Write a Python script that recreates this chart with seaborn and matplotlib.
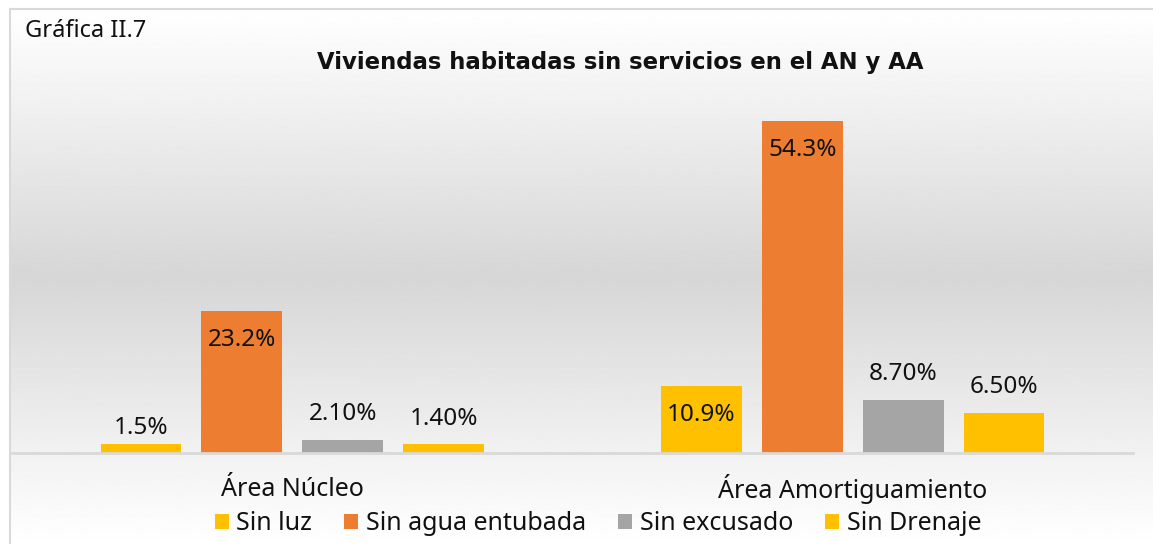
import numpy as np
import pandas as pd
import matplotlib
matplotlib.use("Agg")
import matplotlib.pyplot as plt
import seaborn as sns

# ---- data ----
areas = ["Área Núcleo", "Área Amortiguamiento"]
servicios = ["Sin luz", "Sin agua entubada", "Sin excusado", "Sin Drenaje"]
sin_luz = [1.5, 10.9]
sin_agua = [23.2, 54.3]
sin_excusado = [2.10, 8.70]
sin_drenaje = [1.40, 6.50]
etiquetas = [["1.5%", "10.9%"], ["23.2%", "54.3%"], ["2.10%", "8.70%"], ["1.40%", "6.50%"]]
titulo = "Viviendas habitadas sin servicios en el AN y AA"
rotulo = "Gráfica II.7"

rows = []
for serie, vals in zip(servicios, [sin_luz, sin_agua, sin_excusado, sin_drenaje]):
    for a, v in zip(areas, vals):
        rows.append({"area": a, "servicio": serie, "valor": v})
df = pd.DataFrame(rows)

colors = {"Sin luz": "#FFC000", "Sin agua entubada": "#ED7D31",
          "Sin excusado": "#A5A5A5", "Sin Drenaje": "#FFC000"}
inside = [[False, True], [True, True], [False, False], [False, False]]
pad_out = [[3, 0], [0, 0], [10, 10], [10, 10]]

sns.set_theme(style="white")
FONT = ["Noto Sans", "DejaVu Sans"]
plt.rcParams["font.family"] = FONT

W, H = 1153, 544
fig = plt.figure(figsize=(W / 100, H / 100), dpi=100)
fig.patch.set_facecolor("white")

# background gradient panel
bg = fig.add_axes([10 / W, 0, 1 - 10 / W, 1 - 9 / H], zorder=-5)
yy = np.linspace(0, 1, 400)
g = 0.84 + 0.16 * np.abs(yy - 0.5) / 0.5
img = np.repeat(g[:, None], 2, axis=1)
bg.imshow(img, aspect="auto", cmap="gray", vmin=0, vmax=1, extent=[0, 1, 0, 1], origin="upper")
bg.set_xticks([]); bg.set_yticks([])
for s in ["right", "bottom"]:
    bg.spines[s].set_visible(False)
for s in ["top", "left"]:
    bg.spines[s].set_color("#d9d9d9")
    bg.spines[s].set_linewidth(1.5)

ax = fig.add_axes([12 / W, (H - 453) / H, (1133 - 12) / W, (453 - 86) / H])
ax.set_facecolor("none")
sns.barplot(data=df, x="area", y="valor", hue="servicio", order=areas,
            hue_order=servicios, palette=colors, width=0.72, gap=0.2,
            saturation=1, linewidth=0, ax=ax, legend=True)
ax.set_xlim(-0.5, 1.5)
ax.set_ylim(0, 60)
ax.set_xlabel(""); ax.set_ylabel("")
ax.set_yticks([])
ax.set_xticklabels([])
ax.tick_params(axis="x", length=0)
for i, a in enumerate(areas):
    ax.text(i, -36 / 367, a, transform=ax.get_xaxis_transform(), ha="center", va="center",
            fontsize=18, color="#111111")
for s in ["top", "right", "left"]:
    ax.spines[s].set_visible(False)
ax.spines["bottom"].set_color("#d9d9d9")
ax.spines["bottom"].set_linewidth(2)

for i, cont in enumerate(ax.containers):
    for j, bar in enumerate(cont):
        x = bar.get_x() + bar.get_width() / 2
        y = bar.get_height()
        if inside[i][j]:
            ax.annotate(etiquetas[i][j], (x, y), xytext=(0, -12), textcoords="offset points",
                        ha="center", va="top", fontsize=17.5, color="#111111")
        else:
            ax.annotate(etiquetas[i][j], (x, y), xytext=(0, pad_out[i][j]), textcoords="offset points",
                        ha="center", va="bottom", fontsize=17.5, color="#111111")

leg = ax.legend(loc="center", bbox_to_anchor=(598 / W, 20 / H), bbox_transform=fig.transFigure,
                ncol=4, frameon=False, fontsize=18, handlelength=0.55, handleheight=0.55,
                handletextpad=0.3, columnspacing=1.3, borderaxespad=0)
for t in leg.get_texts():
    t.set_color("#111111")

fig.text(25 / W, 1 - 31 / H, rotulo, ha="left", va="center", fontsize=17, color="#111111")
fig.text(620 / W, 1 - 62 / H, titulo, ha="center", va="center", fontsize=16.4,
         fontweight="bold", family="DejaVu Sans", color="#111111")

fig.savefig("out.png", dpi=100)
